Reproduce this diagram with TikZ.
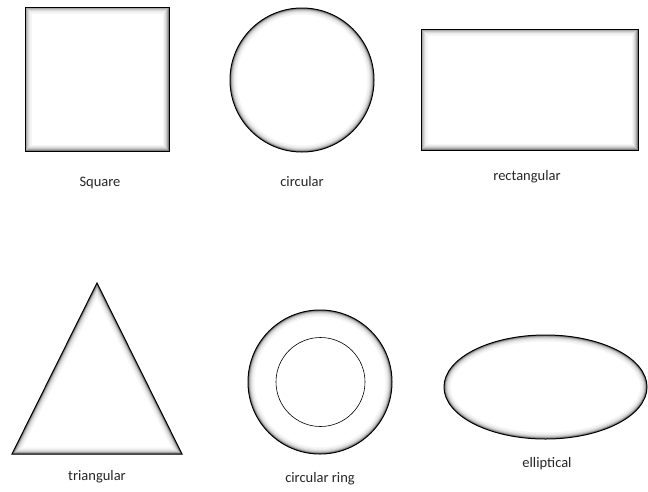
\documentclass[tikz,border=0pt]{standalone}
\usepackage{fontspec}
\setmainfont{Carlito}
\newcommand\glowshape[1]{%
  \begin{scope}
    \clip #1;
    \foreach \w/\c in {13/4,10/8,7.5/14,5.5/22,3.8/34,2.4/50}{\draw[line width=\w pt, black!\c] #1;}
  \end{scope}
  \draw[line width=1pt, black] #1;}
\begin{document}
\begin{tikzpicture}[x=1pt,y=-1pt,
  lbl/.style={font=\fontsize{14.5}{16}\selectfont, text=black!85, inner sep=0pt}]
\useasboundingbox[fill=white] (0,0) rectangle (648,491);
% shapes
\glowshape{(25,7) rectangle (169,151)}
\glowshape{(302,80) circle[radius=72]}
\glowshape{(421,29) rectangle (638,150)}
\glowshape{(97,283) -- (182,454) -- (12,454) -- cycle}
\glowshape{(320,382) circle[radius=72]}
\draw[line width=0.6pt] (320.5,382) circle[radius=44.5];
\glowshape{(545.5,387) ellipse[x radius=101.5, y radius=52]}
% labels
\node[lbl] (lsq) at (100,183) {Square};
\node[lbl] (lci) at (302,182) {circular};
\node[lbl] (lre) at (527,177) {rectangular};
\node[lbl] (ltr) at (97,477) {triangular};
\node[lbl] (lri) at (320,479) {circular ring};
\node[lbl] (lel) at (547,464) {elliptical};
\end{tikzpicture}
\end{document}
